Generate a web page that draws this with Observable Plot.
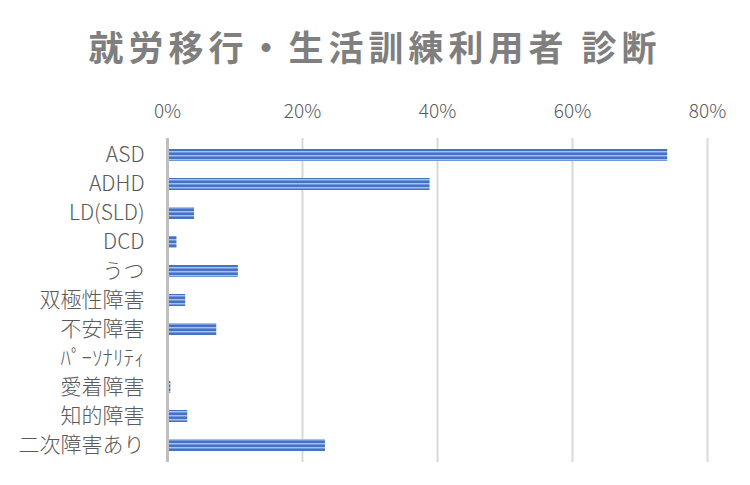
<!DOCTYPE html>
<html><head><meta charset="utf-8">
<script src="https://cdn.jsdelivr.net/npm/d3@7"></script>
<script src="https://cdn.jsdelivr.net/npm/@observablehq/plot@0.6"></script>
<style>
body{margin:0;background:#fff;font-family:"Noto Sans CJK JP","Noto Sans",sans-serif;}
#title{height:85px;line-height:92px;text-align:center;font-size:35px;font-weight:bold;color:#7f7f7f;letter-spacing:5px;}
#chart text{font-weight:300;}
</style></head>
<body>
<div id="title">就労移行・生活訓練利用者 診断</div>
<div id="chart"></div>
<script>
const categories = ["ASD","ADHD","LD(SLD)","DCD","うつ","双極性障害","不安障害","ﾊﾟｰｿﾅﾘﾃｨ","愛着障害","知的障害","二次障害あり"];
const values = [0.741, 0.389, 0.040, 0.014, 0.105, 0.027, 0.073, 0.0, 0.005, 0.030, 0.234];
const xTicks = [0, 0.2, 0.4, 0.6, 0.8];

const data = categories.map((c, i) => ({category: c, value: values[i]}));

const chart = Plot.plot({
  width: 750,
  height: 400,
  marginLeft: 167,
  marginRight: 43,
  marginTop: 53,
  marginBottom: 23,
  style: {fontFamily: '"Noto Sans CJK JP","Noto Sans",sans-serif', fontSize: "18px", color: "#595959", background: "white"},
  x: {domain: [0, 0.8], label: null},
  y: {domain: categories, paddingInner: 0.59, paddingOuter: 0.295, label: null},
  marks: [
    Plot.ruleX(xTicks.filter(d => d > 0), {stroke: "#d9d9d9", strokeWidth: 2}),
    Plot.barX(data, {y: "category", x: "value", fill: "url(#stripes)", insetLeft: 1.5}),
    Plot.ruleX([0], {stroke: "#bfbfbf", strokeWidth: 3}),
    Plot.axisX({anchor: "top", ticks: xTicks, tickFormat: d3.format(".0%"), tickSize: 0, tickPadding: 21, fontSize: 19, fill: "#595959", label: null}),
    Plot.axisY({tickSize: 0, tickPadding: 23, fontSize: 21, fill: "#595959", label: null})
  ]
});

const svg = d3.select(chart);
const defs = svg.insert("defs", ":first-child");
const pat = defs.append("pattern").attr("id", "stripes").attr("patternUnits", "userSpaceOnUse").attr("width", 8).attr("height", 4);
pat.append("rect").attr("width", 8).attr("height", 4).attr("fill", "#4472c4");
pat.append("rect").attr("y", 2).attr("width", 8).attr("height", 1).attr("fill", "#a9c0ea");
pat.append("rect").attr("y", 3).attr("width", 8).attr("height", 1).attr("fill", "#7396d8");
document.getElementById("chart").appendChild(chart);
</script>
</body></html>
